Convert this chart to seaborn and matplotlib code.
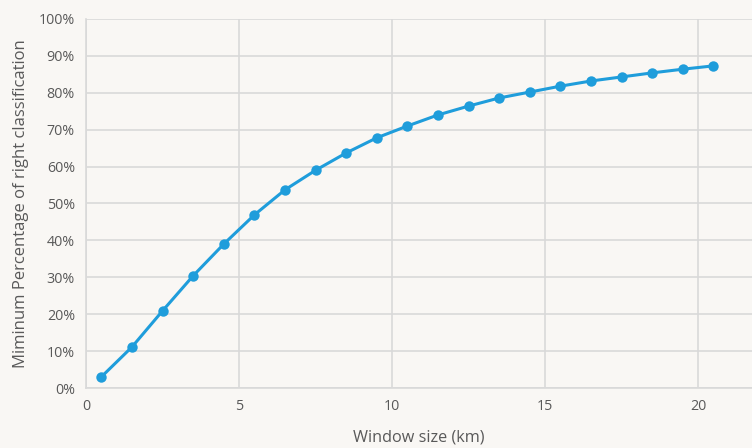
import matplotlib
matplotlib.use("Agg")
import matplotlib.pyplot as plt
import seaborn as sns
import pandas as pd
from matplotlib.ticker import FuncFormatter

window_km = [0.5, 1.5, 2.5, 3.5, 4.5, 5.5, 6.5, 7.5, 8.5, 9.5, 10.5,
             11.5, 12.5, 13.5, 14.5, 15.5, 16.5, 17.5, 18.5, 19.5, 20.5]
pct_right = [3.0, 11.1, 20.9, 30.4, 39.0, 46.9, 53.7, 59.0, 63.7, 67.8, 71.0,
             74.0, 76.4, 78.6, 80.2, 81.8, 83.2, 84.3, 85.4, 86.4, 87.3]
x_ticks = [0, 5, 10, 15, 20]
y_ticks = list(range(0, 101, 10))

df = pd.DataFrame({"window": window_km, "pct": pct_right})

sns.set_theme(style="whitegrid")
plt.rcParams['font.family'] = ['Open Sans', 'DejaVu Sans']

bg = "#F9F7F4"
fig = plt.figure(figsize=(7.52, 4.48), dpi=100, facecolor=bg)
ax = fig.add_axes([86/752, 60/448, 1 - 86/752, (388-19)/448])
ax.set_facecolor(bg)

sns.lineplot(data=df, x="window", y="pct", ax=ax, color="#1F9DDB",
             linewidth=2.2, marker="o", markersize=7.5, markeredgewidth=0)

ax.set_xlim(0, 21.76)
ax.set_ylim(0, 100)
ax.set_xticks(x_ticks)
ax.set_yticks(y_ticks)
ax.yaxis.set_major_formatter(FuncFormatter(lambda v, p: f"{int(v)}%"))
ax.grid(True, color="#D9D9D9", linewidth=1.2)
ax.tick_params(axis="both", colors="#595959", labelsize=10.3, length=0, pad=8)
for s in ["top", "right"]:
    ax.spines[s].set_visible(False)
for s in ["left", "bottom"]:
    ax.spines[s].set_color("#D9D9D9")
    ax.spines[s].set_linewidth(1.2)
ax.set_xlabel("Window size (km)", color="#595959", fontsize=11.7, labelpad=11)
ax.set_ylabel("Miminum Percentage of right classification", color="#595959",
              fontsize=12, labelpad=7)

fig.savefig("out.png", dpi=100, facecolor=bg)
